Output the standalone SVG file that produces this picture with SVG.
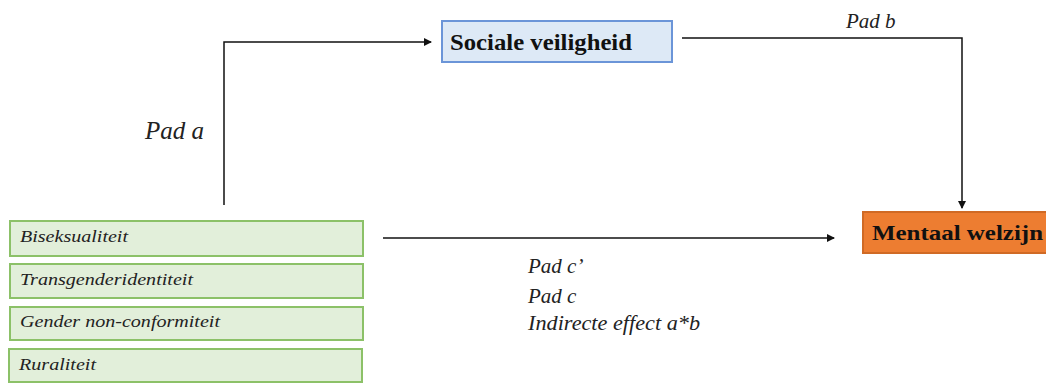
<svg xmlns="http://www.w3.org/2000/svg" width="1046" height="383" viewBox="0 0 1046 383">
<style>
.g{fill:#e2efda;stroke:#8cc168;stroke-width:2}
.t{font-family:"Liberation Serif","DejaVu Serif",serif;font-style:italic;fill:#222}
.s{font-size:16px}
.l{font-size:21px}
.b{font-family:"Liberation Serif","DejaVu Serif",serif;font-weight:bold;fill:#111}
.c{fill:none;stroke:#111;stroke-width:1.5}
</style>
<defs>
<marker id="ah" markerWidth="8" markerHeight="8" refX="7" refY="4" orient="auto" markerUnits="userSpaceOnUse">
<path d="M0,0 L8,4 L0,8 Z" fill="#111"/>
</marker>
</defs>
<rect width="1046" height="383" fill="#fff"/>
<g id="connectors">
<path class="c" d="M224,205 V42 H431" marker-end="url(#ah)"/>
<path class="c" d="M682,38 H962 V208" marker-end="url(#ah)"/>
<path class="c" d="M383,238 H834" marker-end="url(#ah)"/>
</g>
<g id="sociale">
<rect x="442" y="21" width="230" height="41" fill="#dde9f6" stroke="#6b95d8" stroke-width="2"/>
<text class="b" x="450" y="50" font-size="23" textLength="182" lengthAdjust="spacingAndGlyphs">Sociale veiligheid</text>
</g>
<g id="mentaal">
<rect x="863" y="212" width="190" height="41" fill="#ed7d31" stroke="#d06a25" stroke-width="2"/>
<text class="b" x="872" y="240" font-size="21" textLength="171" lengthAdjust="spacingAndGlyphs">Mentaal welzijn</text>
</g>
<g id="biseksualiteit">
<rect class="g" x="10" y="221" width="353" height="35"/>
<text class="t s" x="20" y="242" textLength="108" lengthAdjust="spacingAndGlyphs">Biseksualiteit</text>
</g>
<g id="transgender">
<rect class="g" x="10" y="264" width="353" height="34"/>
<text class="t s" x="20" y="285" textLength="173" lengthAdjust="spacingAndGlyphs">Transgenderidentiteit</text>
</g>
<g id="gender">
<rect class="g" x="10" y="307" width="353" height="33"/>
<text class="t s" x="20" y="327" textLength="200" lengthAdjust="spacingAndGlyphs">Gender non-conformiteit</text>
</g>
<g id="ruraliteit">
<rect class="g" x="9" y="349" width="353" height="33"/>
<text class="t s" x="19" y="370" textLength="77" lengthAdjust="spacingAndGlyphs">Ruraliteit</text>
</g>
<g id="labels">
<text class="t" x="145" y="139" font-size="25">Pad a</text>
<text class="t" x="846" y="28" font-size="21">Pad b</text>
<text class="t l" x="528" y="273">Pad c’</text>
<text class="t l" x="528" y="303">Pad c</text>
<text class="t l" x="528" y="330" textLength="172" lengthAdjust="spacingAndGlyphs">Indirecte effect a*b</text>
</g>
</svg>
